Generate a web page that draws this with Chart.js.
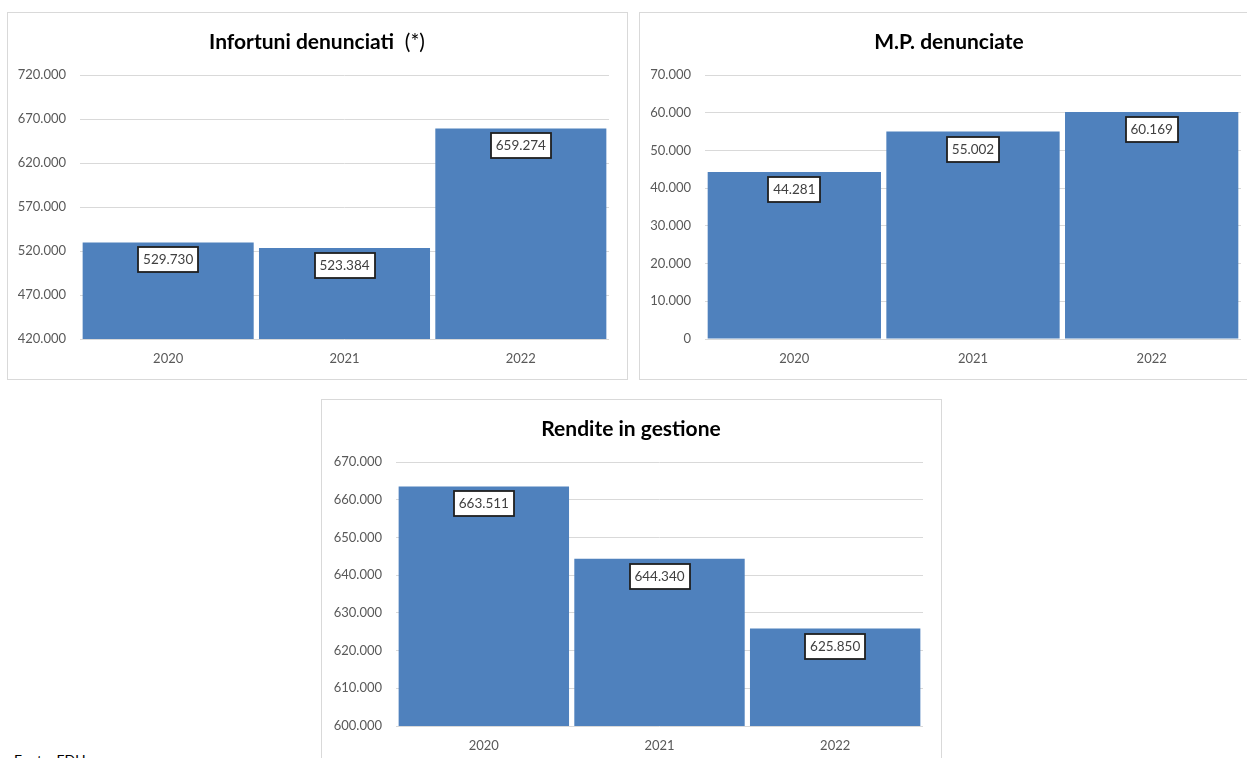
<!DOCTYPE html>
<html lang="it">
<head>
<meta charset="utf-8">
<title>Infortuni, malattie professionali e rendite 2020-2022</title>
<script src="https://cdn.jsdelivr.net/npm/chart.js@4.4.1/dist/chart.umd.min.js"></script>
<style>
  html, body { margin: 0; padding: 0; background: #ffffff; }
  body { width: 1247px; height: 758px; position: relative; overflow: hidden; font-family: Lato, "Open Sans", sans-serif; }
  .panel { position: absolute; border: 1px solid #d9d9d9; box-sizing: border-box; background: #fff; }
  canvas { position: absolute; }
  .source { position: absolute; left: 14px; top: 751px; font-size: 14px; color: #000; white-space: nowrap; }
</style>
</head>
<body>
<div class="panel" id="p1" style="left:7px;top:12px;width:621px;height:368px;"></div>
<canvas id="c1" width="620" height="367" style="left:7px;top:12px;"></canvas>

<div class="panel" id="p2" style="left:639px;top:12px;width:621px;height:368px;"></div>
<canvas id="c2" width="620" height="367" style="left:639px;top:12px;"></canvas>

<div class="panel" id="p3" style="left:321px;top:399px;width:621px;height:368px;"></div>
<canvas id="c3" width="620" height="367" style="left:321px;top:399px;"></canvas>

<div class="source">Fonte: EDU</div>

<script>
// Years shown on every chart
const years = ['2020', '2021', '2022'];

// Infortuni denunciati (*) - the note marker is set in regular weight
const infortuniTitle = 'Infortuni denunciati';
const infortuniNote = '  (*)';
const infortuni = [529730, 523384, 659274];
const infortuniTicks = [420000, 470000, 520000, 570000, 620000, 670000, 720000];

// Malattie professionali denunciate
const mpTitle = 'M.P. denunciate';
const malattie = [44281, 55002, 60169];
const mpTicks = [0, 10000, 20000, 30000, 40000, 50000, 60000, 70000];

// Rendite in gestione
const renditeTitle = 'Rendite in gestione';
const rendite = [663511, 644340, 625850];
const renditeTicks = [600000, 610000, 620000, 630000, 640000, 650000, 660000, 670000];

const BAR_BLUE = '#4f81bd';
const FONT = 'Lato, "Open Sans", sans-serif';

// Italian thousands separator: 529730 -> "529.730"
function fmt(v) {
  return String(Math.round(v)).replace(/\B(?=(\d{3})+(?!\d))/g, '.');
}

// Chart title centred across the whole canvas (bold text + optional regular note)
const panelTitle = {
  id: 'panelTitle',
  afterDraw(chart, args, opts) {
    const ctx = chart.ctx;
    const boldFont = 'bold 21px ' + FONT;
    const normFont = '21px ' + FONT;
    ctx.save();
    ctx.textBaseline = 'middle';
    ctx.textAlign = 'left';
    ctx.fillStyle = '#000';
    ctx.font = boldFont;
    const w1 = ctx.measureText(opts.text).width;
    ctx.font = normFont;
    const w2 = opts.note ? ctx.measureText(opts.note).width : 0;
    const x0 = chart.width / 2 - (w1 + w2) / 2;
    ctx.font = boldFont;
    ctx.fillText(opts.text, x0, opts.y);
    if (opts.note) {
      ctx.font = normFont;
      ctx.fillText(opts.note, x0 + w1, opts.y);
    }
    ctx.restore();
  }
};

// Boxed value labels just inside the top of each bar
const boxedLabels = {
  id: 'boxedLabels',
  afterDatasetsDraw(chart) {
    const ctx = chart.ctx;
    const meta = chart.getDatasetMeta(0);
    const data = chart.data.datasets[0].data;
    ctx.save();
    ctx.font = '13.5px ' + FONT;
    ctx.textAlign = 'center';
    ctx.textBaseline = 'middle';
    meta.data.forEach((bar, i) => {
      const txt = fmt(data[i]);
      const w = Math.round(ctx.measureText(txt).width) + 10;
      const h = 25;
      const x = Math.round(bar.x - w / 2);
      const y = Math.round(bar.y + 5);
      ctx.fillStyle = '#ffffff';
      ctx.fillRect(x, y, w, h);
      ctx.lineWidth = 1.8;
      ctx.strokeStyle = '#1f1f1f';
      ctx.strokeRect(x, y, w, h);
      ctx.fillStyle = '#404040';
      ctx.fillText(txt, bar.x, y + h / 2 + 0.5);
    });
    ctx.restore();
  }
};

function makeChart(id, values, ticks, title, note, axisWidth) {
  const step = ticks[1] - ticks[0];
  return new Chart(document.getElementById(id), {
    type: 'bar',
    data: {
      labels: years,
      datasets: [{
        data: values,
        backgroundColor: BAR_BLUE,
        borderWidth: 0,
        barPercentage: 0.97,
        categoryPercentage: 1.0
      }]
    },
    options: {
      responsive: false,
      animation: false,
      events: [],
      layout: { padding: { top: 63, right: 18, bottom: 0, left: 0 } },
      plugins: {
        legend: { display: false },
        tooltip: { enabled: false },
        title: { display: false },
        panelTitle: { text: title, note: note, y: 30 }
      },
      scales: {
        x: {
          grid: { display: false, drawTicks: false },
          border: { display: false },
          ticks: { color: '#595959', font: { family: FONT, size: 13 }, padding: 12 },
          afterFit(s) { s.height = 40; }
        },
        y: {
          min: ticks[0],
          max: ticks[ticks.length - 1],
          grid: { color: '#d9d9d9', lineWidth: 1, drawTicks: false },
          border: { display: false },
          afterBuildTicks(s) { s.ticks = ticks.map(v => ({ value: v })); },
          ticks: {
            stepSize: step,
            color: '#595959',
            font: { family: FONT, size: 13 },
            padding: 14,
            callback: v => fmt(v)
          },
          afterFit(s) { s.width = axisWidth; }
        }
      }
    },
    plugins: [panelTitle, boxedLabels]
  });
}

makeChart('c1', infortuni, infortuniTicks, infortuniTitle, infortuniNote, 73);
makeChart('c2', malattie, mpTicks, mpTitle, '', 66);
makeChart('c3', rendite, renditeTicks, renditeTitle, '', 75);
</script>
</body>
</html>
